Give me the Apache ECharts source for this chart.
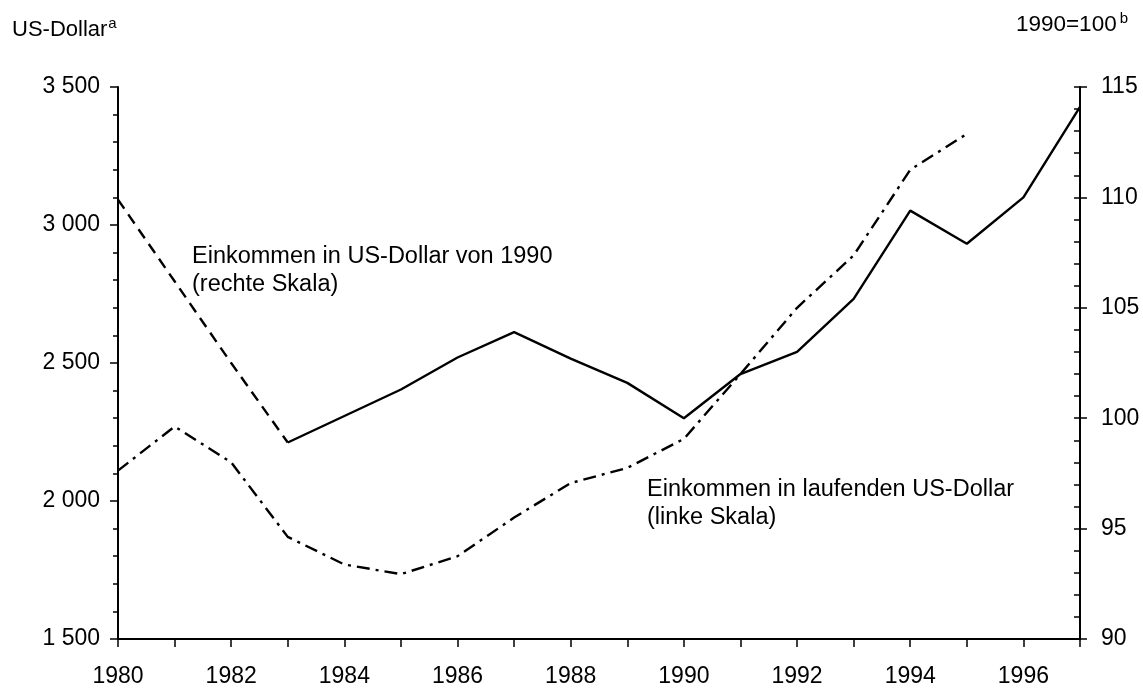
<!DOCTYPE html>
<html>
<head>
<meta charset="utf-8">
<script src="https://cdn.jsdelivr.net/npm/echarts@6/dist/echarts.min.js"></script>
<style>
  html, body { margin: 0; padding: 0; background: #fff; }
  #chart { width: 1143px; height: 688px; }
</style>
</head>
<body>
<div id="chart"></div>
<script>
// Jahre
const years = [1980, 1981, 1982, 1983, 1984, 1985, 1986, 1987, 1988, 1989, 1990, 1991, 1992, 1993, 1994, 1995, 1996, 1997];
// Einkommen in laufenden US-Dollar (linke Skala), 1980-1995
const nominalUsd = [2110, 2270, 2140, 1870, 1770, 1735, 1800, 1940, 2065, 2120, 2225, 2460, 2700, 2890, 3200, 3330];
// Einkommen in US-Dollar von 1990, 1990=100 (rechte Skala), 1980-1997
const realIndex = [109.9, 106.2, 102.5, 98.9, 100.1, 101.3, 102.75, 103.9, 102.7, 101.6, 100.0, 102.0, 103.0, 105.4, 109.4, 107.9, 110.0, 114.1];
// bis hierhin gestrichelt
const dashedUntil = 1983;
// Achsen
const leftTicks = [1500, 2000, 2500, 3000, 3500];
const rightTicks = [90, 95, 100, 105, 110, 115];
const xLabelYears = [1980, 1982, 1984, 1986, 1988, 1990, 1992, 1994, 1996];

const FONT = '"Liberation Sans", Arial, sans-serif';

const nominalData = nominalUsd.map((v, i) => [years[i], v]);
const realDashed = realIndex.map((v, i) => [years[i], v]).filter(d => d[0] <= dashedUntil);
const realSolid = realIndex.map((v, i) => [years[i], v]).filter(d => d[0] >= dashedUntil);

const chartDom = document.getElementById('chart');
const myChart = echarts.init(chartDom);

const lineBase = { type: 'line', symbol: 'none', silent: true, animation: false };

const option = {
  backgroundColor: '#fff',
  animation: false,
  textStyle: { fontFamily: FONT, color: '#000' },
  grid: { left: 118, right: 63, top: 87, bottom: 46 },
  xAxis: {
    type: 'value',
    min: years[0],
    max: years[years.length - 1],
    interval: 1,
    axisLine: { show: true, lineStyle: { color: '#000', width: 2 } },
    axisTick: { show: true, length: 8, lineStyle: { color: '#000', width: 1.5 } },
    splitLine: { show: false },
    axisLabel: {
      margin: 26,
      fontSize: 23,
      color: '#000',
      fontFamily: FONT,
      formatter: v => (xLabelYears.includes(v) ? String(v) : '')
    }
  },
  yAxis: [
    {
      type: 'value',
      position: 'left',
      min: leftTicks[0],
      max: leftTicks[leftTicks.length - 1],
      interval: 500,
      axisLine: { show: true, lineStyle: { color: '#000', width: 2 } },
      axisTick: { show: true, length: 8, lineStyle: { color: '#000', width: 1.5 } },
      minorTick: { show: true, splitNumber: 5, length: 5, lineStyle: { color: '#000', width: 1.5 } },
      splitLine: { show: false },
      axisLabel: {
        margin: 18,
        fontSize: 23,
        color: '#000',
        fontFamily: FONT,
        formatter: v => String(v).replace(/\B(?=(\d{3})+(?!\d))/g, ' ')
      }
    },
    {
      type: 'value',
      position: 'right',
      min: rightTicks[0],
      max: rightTicks[rightTicks.length - 1],
      interval: 5,
      axisLine: { show: true, lineStyle: { color: '#000', width: 2 } },
      axisTick: { show: true, length: 7, lineStyle: { color: '#000', width: 1.5 } },
      splitLine: { show: false },
      axisLabel: { margin: 21, fontSize: 23, color: '#000', fontFamily: FONT }
    },
    {
      // kleine Striche innen an der rechten Achse
      type: 'value',
      position: 'right',
      min: rightTicks[0],
      max: rightTicks[rightTicks.length - 1],
      interval: 1,
      axisLine: { show: false },
      axisTick: { show: true, inside: true, length: 6, lineStyle: { color: '#000', width: 1.5 } },
      splitLine: { show: false },
      axisLabel: { show: false }
    }
  ],
  graphic: [
    {
      type: 'text', left: 12, top: 16,
      style: {
        text: '{m|US-Dollar}{s|a}',
        rich: {
          m: { fontSize: 22, fontFamily: FONT, fill: '#000' },
          s: { fontSize: 15, fontFamily: FONT, fill: '#000', verticalAlign: 'top', padding: [0, 0, 12, 1] }
        }
      }
    },
    {
      type: 'text', right: 15, top: 11,
      style: {
        text: '{m|1990=100}{s|b}',
        rich: {
          m: { fontSize: 22.5, fontFamily: FONT, fill: '#000' },
          s: { fontSize: 15, fontFamily: FONT, fill: '#000', verticalAlign: 'top', padding: [0, 0, 12, 3] }
        }
      }
    },
    {
      type: 'text', left: 192, top: 243,
      style: {
        text: 'Einkommen in US-Dollar von 1990\n(rechte Skala)',
        fontSize: 23.5, lineHeight: 28, fontFamily: FONT, fill: '#000'
      }
    },
    {
      type: 'text', left: 647, top: 476,
      style: {
        text: 'Einkommen in laufenden US-Dollar\n(linke Skala)',
        fontSize: 23.5, lineHeight: 28, fontFamily: FONT, fill: '#000'
      }
    }
  ],
  series: [
    {
      ...lineBase,
      name: 'Einkommen in laufenden US-Dollar',
      yAxisIndex: 0,
      data: nominalData,
      lineStyle: { color: '#000', width: 2.4, type: [13, 6, 3, 6] }
    },
    {
      ...lineBase,
      name: 'Einkommen in US-Dollar von 1990 (gestrichelt)',
      yAxisIndex: 1,
      data: realDashed,
      lineStyle: { color: '#000', width: 2.4, type: [11, 7] }
    },
    {
      ...lineBase,
      name: 'Einkommen in US-Dollar von 1990',
      yAxisIndex: 1,
      data: realSolid,
      lineStyle: { color: '#000', width: 2.4, type: 'solid' }
    }
  ]
};

myChart.setOption(option);
</script>
</body>
</html>
